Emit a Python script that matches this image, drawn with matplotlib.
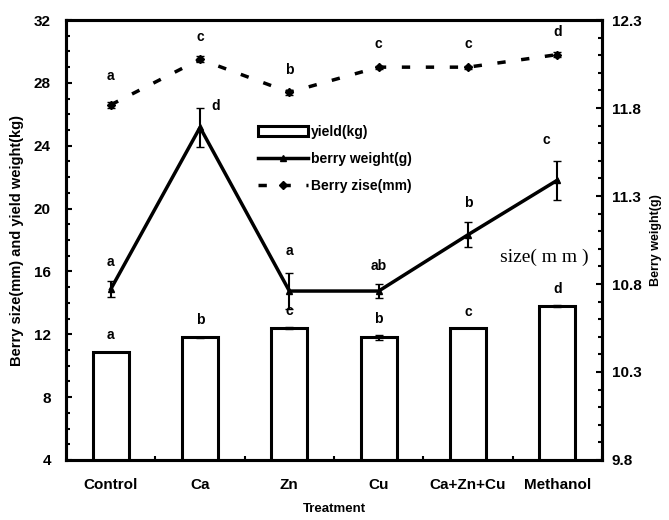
import matplotlib
matplotlib.use("Agg")
import matplotlib.pyplot as plt
from matplotlib.ticker import MultipleLocator
import numpy as np

# data
treatments = ["Control", "Ca", "Zn", "Cu", "Ca+Zn+Cu", "Methanol"]
yield_kg = [10.9, 11.8, 12.4, 11.8, 12.4, 13.8]
yield_err = [0.0, 0.05, 0.05, 0.15, 0.0, 0.05]
yield_letters = ["a", "b", "c", "b", "c", "d"]
berry_size = [26.6, 29.5, 27.4, 29.0, 29.0, 29.8]
size_err = [0.2, 0.2, 0.15, 0.1, 0.1, 0.15]
size_letters = ["a", "c", "b", "c", "c", "d"]
berry_weight = [10.77, 11.69, 10.76, 10.76, 11.08, 11.39]
weight_err = [0.045, 0.11, 0.1, 0.04, 0.07, 0.11]
weight_letters = ["a", "d", "a", "ab", "b", "c"]

plt.rcParams['font.family'] = ['Liberation Sans', 'DejaVu Sans']
plt.rcParams['font.weight'] = 'bold'

fig = plt.figure(figsize=(6.69, 5.2), dpi=100)
ax = fig.add_axes([0.0987, 0.1154, 0.8012, 0.8461])
ax2 = ax.twinx()

x = np.arange(len(treatments))

# bars (left axis)
bars = ax.bar(x, yield_kg, width=0.4, color="white", edgecolor="black", linewidth=2.2,
              yerr=yield_err, ecolor="black", capsize=3, label="yield(kg)", zorder=2)

# berry size dashed line (left axis)
size_line, = ax.plot(x, berry_size, color="black", linewidth=2.5, dashes=(2.4, 4.5),
                     marker="D", markersize=4, label="Berry zise(mm)", zorder=3)
ax.errorbar(x, berry_size, yerr=size_err, fmt="none", ecolor="black", capsize=3, linewidth=1.5)

# berry weight solid line (right axis)
weight_line, = ax2.plot(x, berry_weight, color="black", linewidth=2.5,
                        marker="^", markersize=4, label="berry weight(g)", zorder=3)
ax2.errorbar(x, berry_weight, yerr=weight_err, fmt="none", ecolor="black", capsize=3, linewidth=1.5)

ax.set_xlim(-0.5, 5.5)
ax.set_ylim(4, 32)
ax2.set_ylim(9.8, 12.3)

ax.yaxis.set_major_locator(MultipleLocator(4))
ax.yaxis.set_minor_locator(MultipleLocator(1))
ax2.yaxis.set_minor_locator(MultipleLocator(0.1))
ax2.set_yticks(np.arange(9.8, 12.31, 0.5))
ax2.set_yticklabels(["9.8", "10.3", "10.8", "11.3", "11.8", "12.3"])

ax.set_xticks(x)
ax.set_xticks(x + 0.5, minor=True)
ax.set_xticklabels(treatments, fontsize=10, fontweight="bold")

for a in (ax, ax2):
    a.tick_params(which="major", direction="in", length=4, width=1.5, labelsize=11)
    a.tick_params(which="minor", direction="in", length=3, width=1.5)
    for s in a.spines.values():
        s.set_linewidth(2.2)
ax.tick_params(axis="y", which="major", pad=11)
ax2.tick_params(axis="y", which="major", pad=7)
ax.tick_params(axis="x", which="both", pad=13, length=3)

# letters
for i in range(len(treatments)):
    ax.text(x[i], yield_kg[i] + yield_err[i] + 0.6, yield_letters[i], ha="center", va="bottom", fontsize=10, fontweight="bold")
    ax.text(x[i], berry_size[i] + 1.0 + (0.4 if i == 0 else 0), size_letters[i], ha="center", va="bottom", fontsize=10, fontweight="bold")

w_off = [(0, 0.07), (0.17, -0.03), (0, 0.09), (0, 0.06), (0, 0.07), (-0.12, 0.08)]
for i in range(len(treatments)):
    dx, dy = w_off[i]
    ax2.text(x[i] + dx, berry_weight[i] + weight_err[i] + dy, weight_letters[i],
             ha="center", va="bottom", fontsize=10, fontweight="bold")

ax.text(4.36, 16.9, "size( m m )", family="Liberation Serif", fontweight="normal", fontsize=14,
        ha="left", va="center")

ax.legend([bars, weight_line, size_line], ["yield(kg)", "berry weight(g)", "Berry zise(mm)"],
          loc="upper left", bbox_to_anchor=(0.358, 0.762), frameon=False, fontsize=10,
          handlelength=3.6, handletextpad=0.2, labelspacing=0.95, borderpad=0, borderaxespad=0)

ax.set_ylabel("Berry size(mm) and yield weight(kg)", fontsize=10.5, fontweight="bold", labelpad=7)
ax2.set_ylabel("Berry weight(g)", fontsize=9, fontweight="bold", labelpad=6)
ax.set_xlabel("Treatment", fontsize=9.5, fontweight="bold", labelpad=8)

fig.savefig("out.png", dpi=100)
